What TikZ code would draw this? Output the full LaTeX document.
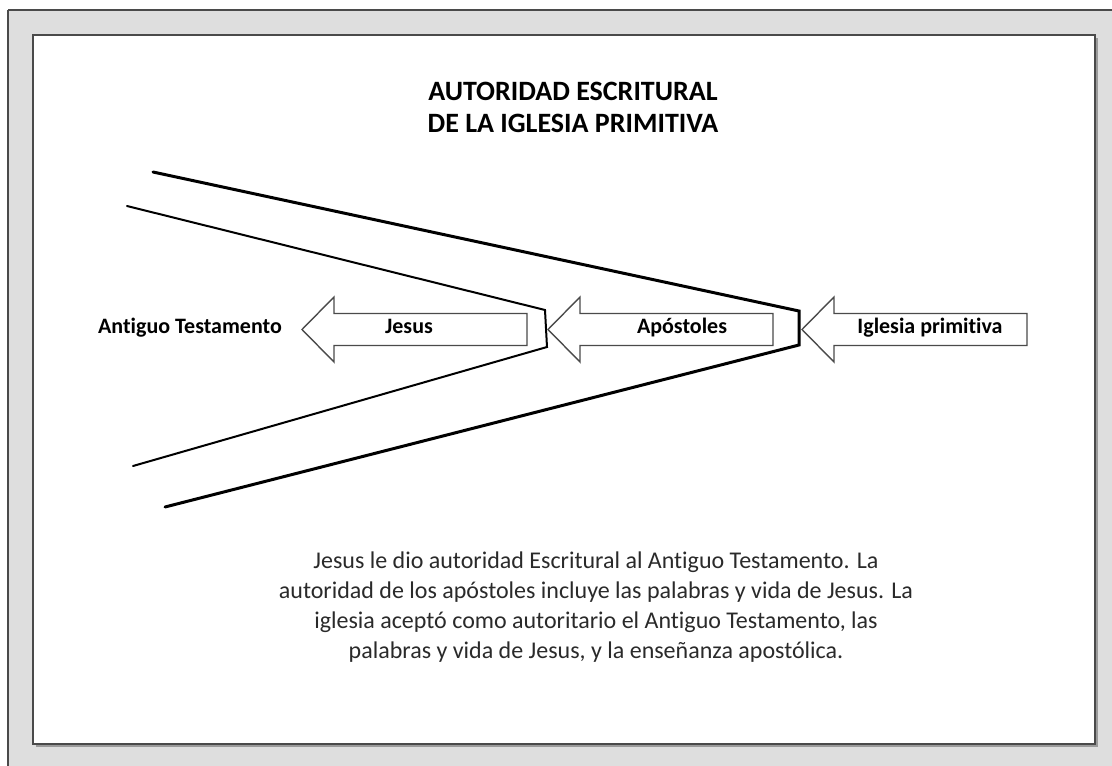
\documentclass[tikz,border=0pt]{standalone}
\usepackage{fontspec}
\setmainfont[Ligatures=NoCommon]{Carlito}
\usepackage{tikz}
\usepackage{xcolor}
\usetikzlibrary{positioning}
\definecolor{panelgray}{HTML}{DEDEDE}
\definecolor{edgegray}{HTML}{4A4A4A}
\definecolor{shadowgray}{HTML}{9A9A9A}
\definecolor{textgray}{HTML}{2A2A2A}
\tikzset{
    frame-box/.style = {draw=edgegray, line width=2.5pt},
    wedge-line/.style = {draw=black, line join=miter, line cap=round},
    block-arrow/.style = {draw=edgegray, fill=white, line width=1.4pt, line join=miter},
    arrow-label/.style = {font=\fontsize{22}{26}\selectfont\bfseries, inner sep=0pt, anchor=base},
}
% left pointing block arrow: tip x, tail x
\newcommand{\blockarrow}[2]{%
  \draw[block-arrow] (#1,329.5) -- (#1+32,297) -- (#1+32,313.5) -- (#2,313.5)
    -- (#2,345.5) -- (#1+32,345.5) -- (#1+32,362) -- cycle;
}

\begin{document}
\begin{tikzpicture}[x=1pt,y=-1pt]
\useasboundingbox (0,0) rectangle (1112,766);
% frames
\fill[panelgray] (8,10) rectangle (1125,780);
\draw[frame-box] (8,10) -- (1125,10);
\draw[frame-box] (8,10) -- (8,780);
\fill[shadowgray] (36,38) rectangle (1098,747);
\filldraw[frame-box, fill=white] (33,35) rectangle (1095,744);

% title
\node[font=\fontsize{28}{32}\selectfont\bfseries, align=center, inner sep=0pt, anchor=north] (title) at (573,82)
    {AUTORIDAD ESCRITURAL\\DE LA IGLESIA PRIMITIVA};

% wedges
\coordinate (outer-top) at (153,172);
\coordinate (outer-tip-a) at (799,311);
\coordinate (outer-tip-b) at (799,345);
\coordinate (outer-bottom) at (165,507);
\coordinate (inner-top) at (127,206);
\coordinate (inner-tip-a) at (545,310);
\coordinate (inner-tip-b) at (547,347);
\coordinate (inner-bottom) at (133,466);
\draw[wedge-line, line width=3pt] (outer-top) -- (outer-tip-a) -- (outer-tip-b) -- (outer-bottom);
\draw[wedge-line, line width=2pt] (inner-top) -- (inner-tip-a) -- (inner-tip-b) -- (inner-bottom);

% arrows
\blockarrow{302}{527}
\blockarrow{548}{773}
\blockarrow{802}{1027}

\node[arrow-label] (old-testament) at (190,333) {Antiguo Testamento};
\node[arrow-label] (jesus) at (409,333) {Jesus};
\node[arrow-label] (apostles) at (682,333) {Apóstoles};
\node[arrow-label] (church) at (930,333) {Iglesia primitiva};

% explanation
\node[font=\fontsize{24}{30}\selectfont, text=textgray, align=center, inner sep=0pt, anchor=north] (note) at (596,552)
    {Jesus le dio autoridad Escritural al Antiguo Testamento. La\\
     autoridad de los apóstoles incluye las palabras y vida de Jesus. La\\
     iglesia aceptó como autoritario el Antiguo Testamento, las\\
     palabras y vida de Jesus, y la enseñanza apostólica.};
\end{tikzpicture}
\end{document}
